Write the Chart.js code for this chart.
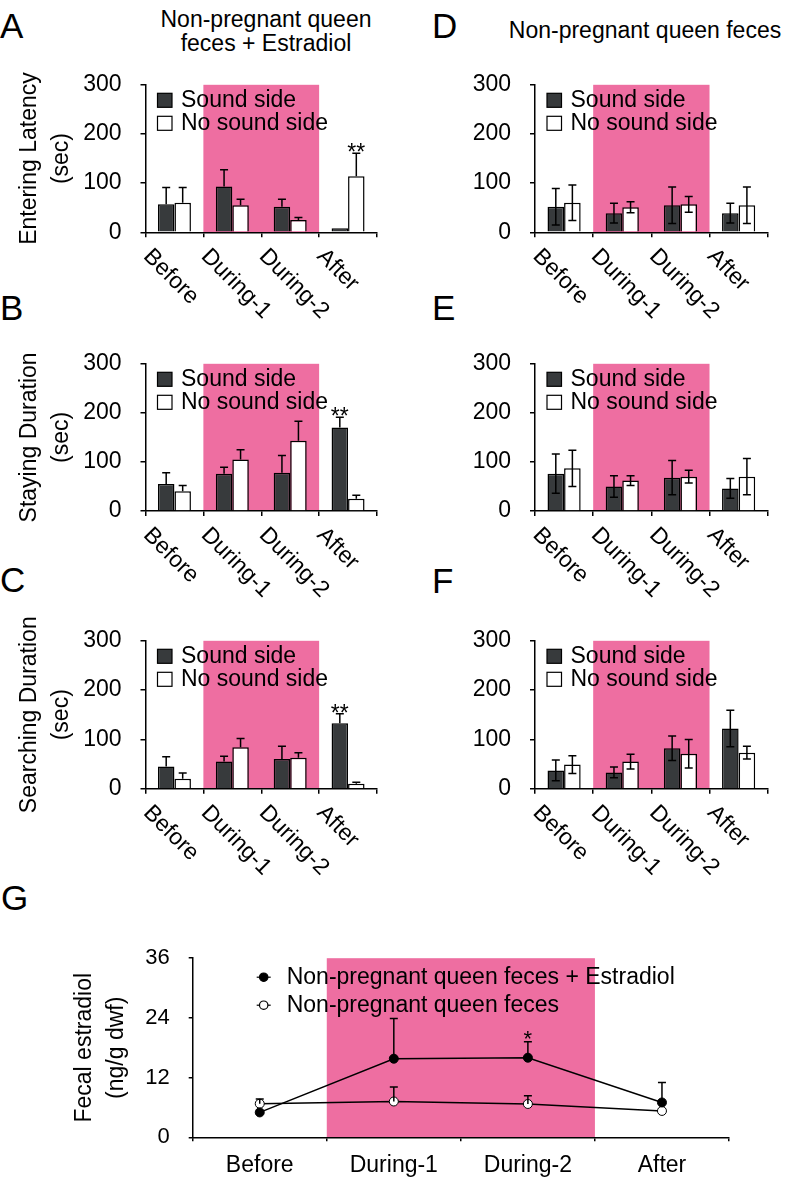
<!DOCTYPE html>
<html>
<head>
<meta charset="utf-8">
<script src="https://cdn.jsdelivr.net/npm/chart.js@4.4.1/dist/chart.umd.min.js"></script>
<style>
html,body{margin:0;padding:0;background:#fff;}
#wrap{position:relative;width:789px;height:1179px;overflow:hidden;font-family:"Liberation Sans",Arial,Helvetica,sans-serif;color:#000;}
canvas{position:absolute;}
.lt{position:absolute;font-size:35px;line-height:35px;}
.tt{position:absolute;font-size:23px;line-height:24px;text-align:center;white-space:nowrap;}
</style>
</head>
<body>
<div id="wrap">
  <div class="lt" style="left:0px;top:8px;">A</div>
  <div class="lt" style="left:432px;top:8px;">D</div>
  <div class="lt" style="left:0px;top:290px;">B</div>
  <div class="lt" style="left:432px;top:290px;">E</div>
  <div class="lt" style="left:0px;top:562px;">C</div>
  <div class="lt" style="left:432px;top:563px;">F</div>
  <div class="lt" style="left:1px;top:880px;">G</div>
  <div class="tt" style="left:116px;width:300px;top:7px;">Non-pregnant queen<br>feces + Estradiol</div>
  <div class="tt" style="left:495px;width:300px;top:18px;">Non-pregnant queen feces</div>

  <canvas id="cA" width="395" height="278" style="left:0px;top:52px;"></canvas>
  <canvas id="cB" width="395" height="277" style="left:0px;top:331px;"></canvas>
  <canvas id="cC" width="395" height="292" style="left:0px;top:608px;"></canvas>
  <canvas id="cD" width="389" height="278" style="left:400px;top:52px;"></canvas>
  <canvas id="cE" width="389" height="277" style="left:400px;top:331px;"></canvas>
  <canvas id="cF" width="389" height="292" style="left:400px;top:608px;"></canvas>
  <canvas id="cG" width="789" height="253" style="left:0px;top:926px;"></canvas>
</div>
<script>
// ---------- data ----------
const categories = ['Before', 'During-1', 'During-2', 'After'];
const barSeriesNames = ['Sound side', 'No sound side'];
const barTicks = [0, 100, 200, 300];

// A: Entering latency, Non-pregnant queen feces + Estradiol
const aSound = [57, 93, 52, 8];
const aSoundErr = [34, 34, 15, 0];
const aNoSound = [60, 55, 25, 114];
const aNoSoundErr = [31, 12, 5, 47];
const aStars = [['', '', '', ''], ['', '', '', '**']];

// B: Staying duration, + Estradiol
const bSound = [55, 76, 78, 170];
const bSoundErr = [23, 13, 35, 21];
const bNoSound = [40, 105, 143, 25];
const bNoSoundErr = [12, 20, 40, 7];
const bStars = [['', '', '', '**'], ['', '', '', '']];

// C: Searching duration, + Estradiol
const cSound = [45, 55, 60, 133];
const cSoundErr = [20, 11, 26, 19];
const cNoSound = [20, 84, 63, 10];
const cNoSoundErr = [12, 18, 10, 3];
const cStars = [['', '', '', '**'], ['', '', '', '']];

// D: Entering latency, Non-pregnant queen feces
const dSound = [52, 39, 55, 39];
const dSoundErr = [37, 20, 37, 20];
const dNoSound = [60, 51, 57, 55];
const dNoSoundErr = [36, 11, 16, 37];

// E: Staying duration, Non-pregnant queen feces
const eSound = [76, 50, 68, 46];
const eSoundErr = [40, 22, 35, 20];
const eNoSound = [87, 62, 70, 70];
const eNoSoundErr = [37, 10, 13, 37];

// F: Searching duration, Non-pregnant queen feces
const fSound = [37, 33, 82, 122];
const fSoundErr = [21, 11, 25, 37];
const fNoSound = [49, 55, 71, 73];
const fNoSoundErr = [18, 15, 29, 13];

const noStars = [['', '', '', ''], ['', '', '', '']];

// G: Fecal estradiol
const gSeriesNames = ['Non-pregnant queen feces + Estradiol', 'Non-pregnant queen feces'];
const gTicks = [0, 12, 24, 36];
const gEstradiol = [5.0, 15.8, 16.0, 7.0];
const gEstradiolErr = [0, 8.1, 3.2, 4.0];
const gEstradiolStars = ['', '', '*', ''];
const gPlain = [6.75, 7.2, 6.7, 5.3];
const gPlainErr = [0.95, 2.9, 1.65, 0];

// ---------- styling ----------
const FONT = '"Liberation Sans", Arial, Helvetica, sans-serif';
const DARK = '#373a3c';
const PINK = '#ee6ea1';
Chart.defaults.font.family = FONT;
Chart.defaults.color = '#000';

const shadePlugin = {
  id: 'shade',
  beforeDraw(chart, args, opts) {
    const x = chart.scales.x, y = chart.scales.y, ctx = chart.ctx;
    const w = x.getPixelForValue(1) - x.getPixelForValue(0);
    const left = x.getPixelForValue(opts.from) - w / 2;
    const right = x.getPixelForValue(opts.to) + w / 2;
    const top = y.getPixelForValue(y.max);
    const bottom = y.getPixelForValue(0);
    ctx.save();
    ctx.fillStyle = PINK;
    ctx.fillRect(left, top, right - left, bottom - top);
    ctx.restore();
  }
};

const errorPlugin = {
  id: 'errs',
  afterDatasetsDraw(chart, args, opts) {
    const ctx = chart.ctx, y = chart.scales.y;
    chart.data.datasets.forEach((ds, di) => {
      const meta = chart.getDatasetMeta(di);
      meta.data.forEach((el, i) => {
        const v = ds.data[i];
        const e = ds.errors ? ds.errors[i] : 0;
        const yTop = y.getPixelForValue(v + e);
        if (e) {
          const yBot = ds.errorBoth ? y.getPixelForValue(v - e) : el.y;
          ctx.save();
          ctx.strokeStyle = '#000';
          ctx.lineWidth = 1.5;
          ctx.beginPath();
          ctx.moveTo(el.x, yBot); ctx.lineTo(el.x, yTop);
          ctx.moveTo(el.x - 4, yTop); ctx.lineTo(el.x + 4, yTop);
          if (ds.errorBoth) { ctx.moveTo(el.x - 4, yBot); ctx.lineTo(el.x + 4, yBot); }
          ctx.stroke();
          ctx.restore();
        }
        if (ds.stars && ds.stars[i]) {
          ctx.save();
          ctx.fillStyle = '#000';
          ctx.font = (opts.starSize || 23) + 'px ' + FONT;
          ctx.textAlign = 'center';
          ctx.textBaseline = 'alphabetic';
          ctx.fillText(ds.stars[i], el.x, yTop + (opts.starOffset || 7));
          ctx.restore();
        }
      });
    });
  }
};

const barLegendPlugin = {
  id: 'barLegend',
  afterDraw(chart) {
    const ctx = chart.ctx, a = chart.chartArea;
    chart.data.datasets.forEach((ds, i) => {
      const cy = a.top + 15.5 + i * 23;
      ctx.save();
      ctx.fillStyle = ds.backgroundColor;
      ctx.fillRect(a.left + 12, cy - 7, 14.5, 14);
      ctx.strokeStyle = '#000';
      ctx.lineWidth = 1.2;
      ctx.strokeRect(a.left + 12, cy - 7, 14.5, 14);
      ctx.fillStyle = '#000';
      ctx.font = '23px ' + FONT;
      ctx.textAlign = 'left';
      ctx.textBaseline = 'middle';
      ctx.fillText(ds.label, a.left + 35.5, cy);
      ctx.restore();
    });
  }
};

const rotLabelPlugin = {
  id: 'rotLabels',
  afterDraw(chart) {
    const ctx = chart.ctx, x = chart.scales.x, y = chart.scales.y;
    const y0 = y.getPixelForValue(0);
    chart.data.labels.forEach((lab, i) => {
      const cx = x.getPixelForValue(i);
      ctx.save();
      ctx.translate(cx - 32, y0 + 25);
      ctx.rotate(Math.PI / 4);
      ctx.fillStyle = '#000';
      ctx.font = '23px ' + FONT;
      ctx.textAlign = 'left';
      ctx.textBaseline = 'alphabetic';
      ctx.fillText(lab, 0, 0);
      ctx.restore();
    });
  }
};

function axisCommon(tickLen) {
  return {
    grid: { display: true, drawOnChartArea: false, drawTicks: true, tickLength: tickLen, color: '#000', lineWidth: 1.5 },
    border: { display: true, color: '#000', width: 1.5 }
  };
}

function barChart(id, geo, sound, soundErr, noSound, noSoundErr, both, stars, yTitle) {
  const xc = axisCommon(5), yc = axisCommon(5);
  new Chart(document.getElementById(id), {
    type: 'bar',
    data: {
      labels: categories,
      datasets: [
        { label: barSeriesNames[0], data: sound, errors: soundErr, errorBoth: both, stars: stars[0],
          backgroundColor: DARK, borderColor: '#000', borderWidth: 1.5, borderSkipped: 'bottom',
          categoryPercentage: 0.57, barPercentage: 1.0 },
        { label: barSeriesNames[1], data: noSound, errors: noSoundErr, errorBoth: both, stars: stars[1],
          backgroundColor: '#ffffff', borderColor: '#000', borderWidth: 1.5, borderSkipped: 'bottom',
          categoryPercentage: 0.57, barPercentage: 1.0 }
      ]
    },
    options: {
      responsive: false, animation: false, events: [],
      layout: { padding: { left: 0, top: geo.padTop, right: geo.padRight, bottom: 0 } },
      plugins: { legend: { display: false }, tooltip: { enabled: false }, shade: { from: 1, to: 2 }, errs: { starOffset: 7 } },
      scales: {
        x: Object.assign(xc, {
          grid: Object.assign(xc.grid, { offset: true }),
          ticks: { display: false },
          afterFit(s) { s.height = geo.xH; }
        }),
        y: Object.assign(yc, {
          min: 0, max: 300,
          afterBuildTicks(s) { s.ticks = barTicks.map(v => ({ value: v })); },
          ticks: { font: { size: 23 }, color: '#000', padding: 19 },
          title: { display: !!yTitle, text: yTitle || '', color: '#000',
                   font: { size: 23, lineHeight: '32px' }, padding: { top: 14, bottom: 0 } },
          afterFit(s) { s.width = geo.yW; }
        })
      }
    },
    plugins: [shadePlugin, errorPlugin, barLegendPlugin, rotLabelPlugin]
  });
}

const L = { yW: 145.5, padRight: 18 };
const R = { yW: 135, padRight: 21.3 };
barChart('cA', Object.assign({ padTop: 16.7, xH: 97.7 }, L), aSound, aSoundErr, aNoSound, aNoSoundErr, false, aStars, ['Entering Latency', '(sec)']);
barChart('cB', Object.assign({ padTop: 16.3, xH: 97 }, L), bSound, bSoundErr, bNoSound, bNoSoundErr, false, bStars, ['Staying Duration', '(sec)']);
barChart('cC', Object.assign({ padTop: 16.3, xH: 111.3 }, L), cSound, cSoundErr, cNoSound, cNoSoundErr, false, cStars, ['Searching Duration', '(sec)']);
barChart('cD', Object.assign({ padTop: 16.7, xH: 97.7 }, R), dSound, dSoundErr, dNoSound, dNoSoundErr, true, noStars, null);
barChart('cE', Object.assign({ padTop: 16.3, xH: 97 }, R), eSound, eSoundErr, eNoSound, eNoSoundErr, true, noStars, null);
barChart('cF', Object.assign({ padTop: 17, xH: 111.3 }, R), fSound, fSoundErr, fNoSound, fNoSoundErr, true, noStars, null);

// ---------- G ----------
const lineLegendPlugin = {
  id: 'lineLegend',
  afterDraw(chart) {
    const ctx = chart.ctx, a = chart.chartArea;
    chart.data.datasets.forEach((ds, i) => {
      const cy = a.top + 19 + i * 28;
      const mx = a.left + 71;
      ctx.save();
      ctx.strokeStyle = '#000';
      ctx.lineWidth = 1.2;
      ctx.beginPath(); ctx.moveTo(mx - 7, cy); ctx.lineTo(mx + 7, cy); ctx.stroke();
      ctx.beginPath(); ctx.arc(mx, cy, 4.2, 0, Math.PI * 2);
      ctx.fillStyle = ds.pointBackgroundColor; ctx.fill(); ctx.stroke();
      ctx.fillStyle = '#000';
      ctx.font = '23px ' + FONT;
      ctx.textAlign = 'left';
      ctx.textBaseline = 'middle';
      ctx.fillText(ds.label, a.left + 94, cy);
      ctx.restore();
    });
  }
};

(function () {
  const xc = axisCommon(4), yc = axisCommon(4);
  new Chart(document.getElementById('cG'), {
    type: 'line',
    data: {
      labels: categories,
      datasets: [
        { label: gSeriesNames[0], data: gEstradiol, errors: gEstradiolErr, errorBoth: false, stars: gEstradiolStars,
          borderColor: '#000', borderWidth: 1.5, pointRadius: 4.5, pointBackgroundColor: '#000',
          pointBorderColor: '#000', pointBorderWidth: 1, tension: 0, fill: false },
        { label: gSeriesNames[1], data: gPlain, errors: gPlainErr, errorBoth: false,
          borderColor: '#000', borderWidth: 1.5, pointRadius: 4.5, pointBackgroundColor: '#ffffff',
          pointBorderColor: '#000', pointBorderWidth: 1, tension: 0, fill: false }
      ]
    },
    options: {
      responsive: false, animation: false, events: [],
      layout: { padding: { left: 0, top: 16, right: 60, bottom: 0 } },
      plugins: { legend: { display: false }, tooltip: { enabled: false }, shade: { from: 1, to: 2 }, errs: { starOffset: 4.5, starSize: 22 } },
      scales: {
        x: Object.assign(xc, {
          offset: true,
          grid: Object.assign(xc.grid, { offset: true }),
          ticks: { font: { size: 23 }, color: '#000', padding: 10.5, maxRotation: 0, minRotation: 0 },
          afterFit(s) { s.height = 41.7; }
        }),
        y: Object.assign(yc, {
          min: 0, max: 36,
          afterBuildTicks(s) { s.ticks = gTicks.map(v => ({ value: v })); },
          ticks: { font: { size: 22 }, color: '#000', padding: 19 },
          title: { display: true, text: ['Fecal estradiol', '(ng/g dwf)'], color: '#000',
                   font: { size: 23, lineHeight: '32px' }, padding: { top: 69, bottom: 0 } },
          afterFit(s) { s.width = 192.7; }
        })
      }
    },
    plugins: [shadePlugin, errorPlugin, lineLegendPlugin]
  });
})();
</script>
</body>
</html>
